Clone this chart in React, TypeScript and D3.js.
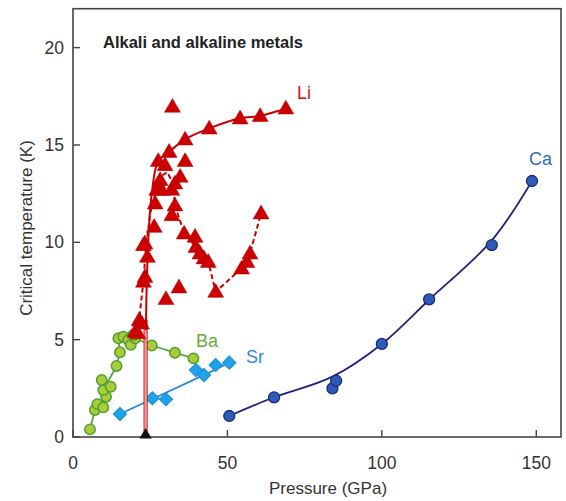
import React from "react";
import * as d3 from "d3";

// ---- Data (Pressure GPa, Tc K) ----
const liP = [68.9, 60.6, 54.1, 44.1, 36.3, 31.1, 27.6, 29.8, 32.2, 36.3, 28.2, 28.7, 27.1, 26.6, 32.0, 33.0, 34.7, 33.0, 32.0, 26.3, 23.3, 24.1, 23.3, 22.8, 22.8, 21.4, 20.1, 22.2, 21.0, 36.0, 39.5, 39.8, 41.1, 42.4, 43.8, 46.2, 54.6, 56.3, 57.3, 60.9, 30.1, 34.3];
const liT = [16.88, 16.49, 16.37, 15.85, 15.29, 14.65, 14.18, 13.97, 16.97, 14.18, 13.2, 12.7, 12.7, 12.0, 12.7, 13.03, 13.37, 11.9, 11.4, 10.8, 9.95, 9.26, 8.23, 7.98, 9.86, 6.0, 5.41, 5.84, 5.33, 10.46, 10.29, 9.77, 9.43, 9.18, 9.0, 7.46, 8.66, 9.0, 9.43, 11.49, 7.09, 7.69];
const liSolidP = [23.6, 23.9, 24.5, 25.5, 27.6, 31.1, 36.3, 44.1, 54.1, 60.6, 68.9];
const liSolidT = [5.5, 8.0, 10.5, 12.5, 14.18, 14.65, 15.29, 15.85, 16.37, 16.49, 16.88];
const liDashP = [20.1, 21.4, 22.8, 23.5, 25.0, 26.6, 28.5, 30.5, 32.5, 33.0, 36.0, 39.8, 43.8, 46.2, 54.6, 57.3, 60.9];
const liDashT = [5.41, 6.0, 8.0, 9.5, 11.5, 12.5, 13.4, 13.6, 13.0, 11.9, 10.46, 9.77, 9.0, 7.46, 8.66, 9.43, 11.49];
const liMarkerP = 23.5;
const liMarkerTop = 6.0;

const baP = [5.5, 7.1, 7.9, 9.8, 10.7, 9.8, 12.2, 9.3, 14.1, 15.2, 14.7, 16.3, 17.9, 18.7, 20.1, 19.5, 25.5, 33.0, 39.0];
const baT = [0.39, 1.39, 1.69, 1.52, 2.07, 2.41, 2.58, 2.93, 3.65, 4.35, 5.07, 5.15, 4.98, 4.73, 5.07, 5.24, 4.7, 4.33, 4.04];
const baLineP = [5.5, 7.1, 9.0, 10.5, 11.5, 14.1, 15.2, 14.7, 17.0, 20.1, 25.5, 33.0, 39.0];
const baLineT = [0.39, 1.39, 1.7, 2.2, 2.9, 3.65, 4.35, 5.07, 5.1, 5.07, 4.7, 4.33, 4.04];

const srP = [15.2, 25.7, 30.1, 39.8, 42.4, 46.2, 50.6];
const srT = [1.18, 1.99, 1.94, 3.44, 3.18, 3.7, 3.82];
const srLineP = [15.2, 42.0, 50.6];
const srLineT = [1.18, 3.15, 3.82];

const caP = [50.6, 65.1, 84.0, 85.2, 100.0, 115.3, 135.6, 148.6];
const caT = [1.08, 2.04, 2.5, 2.89, 4.78, 7.07, 9.86, 13.15];
const caLineP = [50.6, 65.1, 84.0, 100.0, 115.3, 135.6, 148.6];
const caLineT = [1.08, 2.04, 3.1, 4.78, 7.05, 10.1, 13.15];

const xTicks = [0, 50, 100, 150];
const yTicks = [0, 5, 10, 15, 20];

const W = 566;
const H = 501;
const FONT = "'Liberation Sans', Arial, sans-serif";

export default function App() {
  const x = d3.scaleLinear().domain([0, 158]).range([73, 561]);
  const y = d3.scaleLinear().domain([0, 22]).range([437, 8.7]);

  const pts = (ps: number[], ts: number[]) => ps.map((p, i) => [p, ts[i]] as [number, number]);
  const lineLin = d3.line<[number, number]>().x((d) => x(d[0])).y((d) => y(d[1]));
  const lineCurve = d3
    .line<[number, number]>()
    .x((d) => x(d[0]))
    .y((d) => y(d[1]))
    .curve(d3.curveCatmullRom.alpha(0.5));

  const tri = d3.symbol().type(d3.symbolTriangle).size(110)();
  const circ = d3.symbol().type(d3.symbolCircle).size(85)();
  const caCirc = d3.symbol().type(d3.symbolCircle).size(95)();
  const diamond = d3.symbol().type(d3.symbolSquare).size(88)();

  const [x0, x1] = x.range();
  const [y0, y1] = y.range();

  return (
    <svg width={W} height={H} style={{ position: "absolute", left: 0, top: 0, background: "#fff" }} fontFamily={FONT}>
      {/* frame */}
      <rect x={x0} y={y1} width={x1 - x0} height={y0 - y1} fill="none" stroke="#444" strokeWidth={1.6} />
      {/* ticks */}
      {yTicks.map((t) => (
        <g key={"y" + t}>
          <line x1={x0} x2={x0 + 7} y1={y(t)} y2={y(t)} stroke="#444" strokeWidth={1.4} />
          <text x={x0 - 9} y={y(t) + 6} textAnchor="end" fontSize={17.5} fill="#333">
            {t}
          </text>
        </g>
      ))}
      {xTicks.map((t) => (
        <g key={"x" + t}>
          <line x1={x(t)} x2={x(t)} y1={y0} y2={y0 - 7} stroke="#444" strokeWidth={1.4} />
          <text x={x(t)} y={469} textAnchor="middle" fontSize={17.5} fill="#333">
            {t}
          </text>
        </g>
      ))}
      <text x={328} y={494} textAnchor="middle" fontSize={17} fill="#333">
        Pressure (GPa)
      </text>
      <text transform="translate(32,228) rotate(-90)" textAnchor="middle" fontSize={17} fill="#333">
        Critical temperature (K)
      </text>
      <text x={103} y={48} fontSize={16.5} fontWeight="bold" fill="#222">
        Alkali and alkaline metals
      </text>

      {/* Ca */}
      <path d={lineCurve(pts(caLineP, caLineT)) || ""} fill="none" stroke="#23237a" strokeWidth={1.8} />
      {caP.map((p, i) => (
        <path key={"ca" + i} d={caCirc || ""} transform={`translate(${x(p)},${y(caT[i])})`} fill="#2d5cb8" stroke="#1a2a78" strokeWidth={1.3} />
      ))}

      {/* Sr */}
      <path d={lineLin(pts(srLineP, srLineT)) || ""} fill="none" stroke="#2a8ad6" strokeWidth={1.8} />
      {srP.map((p, i) => (
        <path key={"sr" + i} d={diamond || ""} transform={`translate(${x(p)},${y(srT[i])}) rotate(45)`} fill="#1ea2ea" stroke="#1a8ad4" strokeWidth={1} />
      ))}

      {/* Ba */}
      <path d={lineLin(pts(baLineP, baLineT)) || ""} fill="none" stroke="#56a83a" strokeWidth={1.8} />
      {baP.map((p, i) => (
        <path key={"ba" + i} d={circ || ""} transform={`translate(${x(p)},${y(baT[i])})`} fill="#a9cc38" stroke="#4f9f36" strokeWidth={1.5} />
      ))}

      {/* Li */}
      <rect x={x(liMarkerP) - 1.6} y={y(liMarkerTop)} width={3.2} height={y(0) - y(liMarkerTop)} fill="#f0a0a0" stroke="#c00000" strokeWidth={0.8} />
      <path d={lineLin(pts(liDashP, liDashT)) || ""} fill="none" stroke="#c80000" strokeWidth={2} strokeDasharray="5,3" />
      <path d={lineCurve(pts(liSolidP, liSolidT)) || ""} fill="none" stroke="#c80000" strokeWidth={2} />
      {liP.map((p, i) => (
        <path key={"li" + i} d={tri || ""} transform={`translate(${x(p)},${y(liT[i]) + 1})`} fill="#cc0000" stroke="#b00000" strokeWidth={0.5} />
      ))}
      {/* black triangle on axis */}
      <path d={d3.symbol().type(d3.symbolTriangle).size(65)() || ""} transform={`translate(${x(liMarkerP)},${y0 - 2})`} fill="#111" />

      {/* series labels */}
      <text x={297} y={99} fontSize={18} fill="#cc1111">Li</text>
      <text x={529} y={165} fontSize={18} fill="#2f6db8">Ca</text>
      <text x={196} y={347} fontSize={18} fill="#6aaa3c">Ba</text>
      <text x={246} y={363} fontSize={18} fill="#2a8ad6">Sr</text>
    </svg>
  );
}
